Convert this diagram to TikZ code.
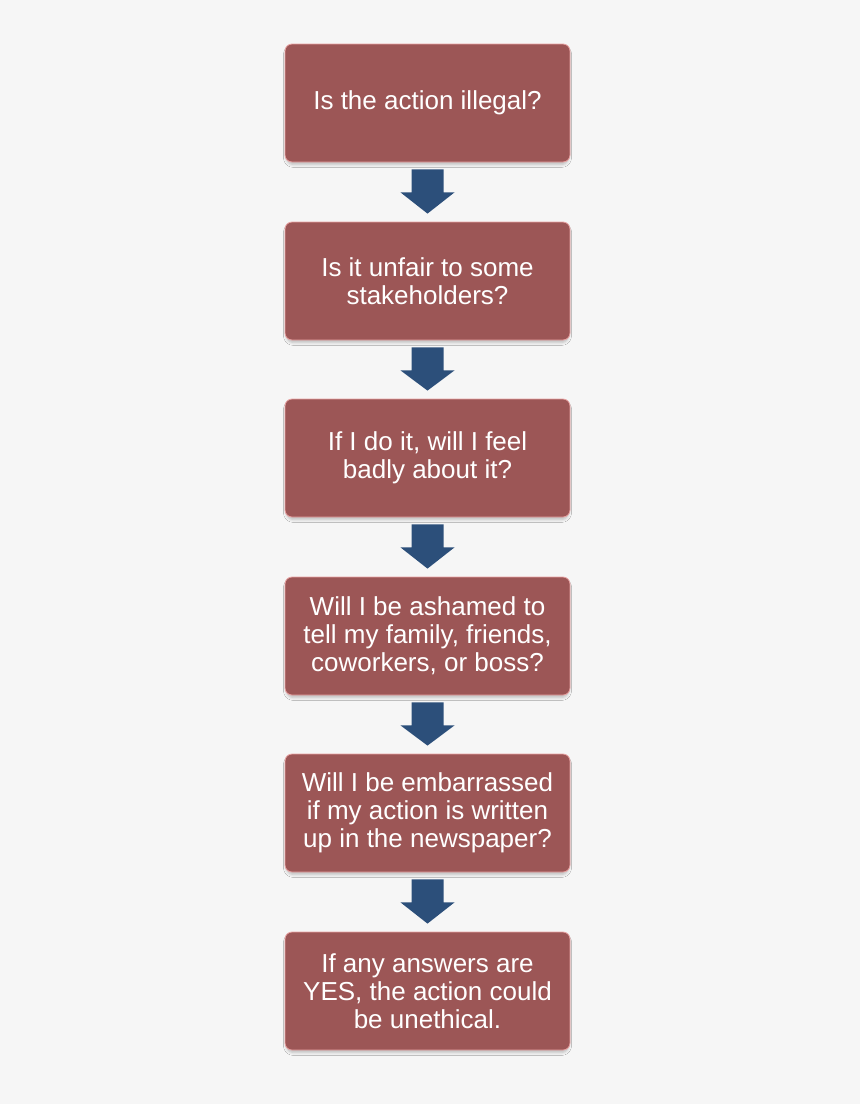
\documentclass[tikz,border=0pt]{standalone}
\usepackage{fontspec}
\setmainfont{Liberation Sans}
\usetikzlibrary{calc,shadows.blur}
\definecolor{bg}{HTML}{F6F6F6}
\definecolor{boxred}{HTML}{9C5656}
\definecolor{boxhi}{HTML}{E8A2A2}
\definecolor{arrowblue}{HTML}{2C4F7A}
\tikzset{
  qbox/.style={rectangle, rounded corners=7pt, minimum width=285pt, minimum height=118pt,
    fill=boxred, draw=boxhi, line width=0.8pt, text=white, align=center,
    font=\fontsize{26}{28}\selectfont,
    blur shadow={shadow xshift=0pt, shadow yshift=-3pt, shadow blur radius=3pt, shadow opacity=25, shadow scale=0.99}},
  barrow/.style={fill=arrowblue, draw=none}
}
\begin{document}
\begin{tikzpicture}[x=1pt,y=1pt]
\fill[bg] (0,0) rectangle (860,-1104);
\useasboundingbox (0,0) rectangle (860,-1104);
\node[qbox] (b1) at (427.5,-103) {Is the action illegal?};
\node[qbox] (b2) at (427.5,-281) {Is it unfair to some\\stakeholders?};
\node[qbox] (b3) at (427.5,-458) {If I do it, will I feel\\badly about it?};
\node[qbox] (b4) at (427.5,-636) {Will I be ashamed to\\tell my family, friends,\\coworkers, or boss?};
\node[qbox] (b5) at (427.5,-813) {Will I be embarrassed\\if my action is written\\up in the newspaper?};
\node[qbox] (b6) at (427.5,-991) {If any answers are\\YES, the action could\\be unethical.};
\foreach \a/\b in {b1/b2,b2/b3,b3/b4,b4/b5,b5/b6}{
  \fill[barrow]
    ($(\a.south)+(-16,-7)$) -- ($(\a.south)+(16,-7)$) --
    ($(\a.south)+(16,-30)$) -- ($(\a.south)+(27,-30)$) --
    ($(\b.north)+(0,8)$) --
    ($(\a.south)+(-27,-30)$) -- ($(\a.south)+(-16,-30)$) -- cycle;
}
\end{tikzpicture}
\end{document}
